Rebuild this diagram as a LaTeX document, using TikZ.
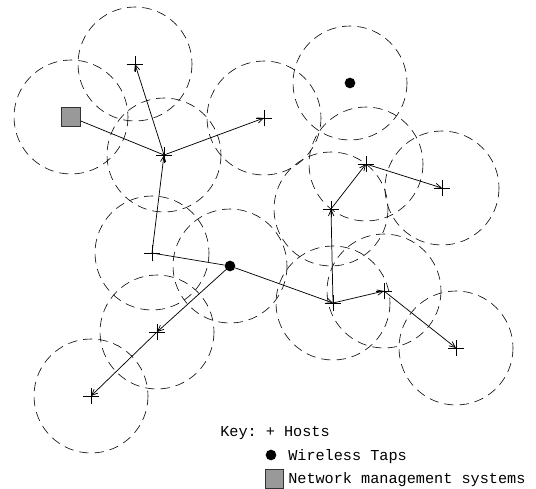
\documentclass[tikz,border=0pt]{standalone}
\usepackage{fontspec}
\setmonofont{Liberation Mono}
\usetikzlibrary{arrows.meta, shapes.misc}

\begin{document}
\begin{tikzpicture}[x=0.75pt,y=-0.75pt,>={Straight Barb[length=4.5pt,width=4pt]},
  host/.style={cross out,draw,rotate=45,minimum size=8.5pt,inner sep=0pt,line width=0.5pt},
  tap/.style={circle,fill=black,minimum size=8pt,inner sep=0pt},
  nms/.style={rectangle,draw=black!80,fill=black!40,minimum size=14pt,inner sep=0pt,line width=0.6pt},
  coverage/.style={dash pattern=on 7pt off 4.5pt,black,line width=0.45pt},
  link/.style={line width=0.55pt},
  keytext/.style={font=\ttfamily\fontsize{11.4}{13}\selectfont,inner sep=0pt,anchor=base west}]
\useasboundingbox (0,0) rectangle (536,489);

% management system and taps
\node[nms] (nms) at (71,117) {};
\node[tap] (tap1) at (230,266) {};
\node[tap] (tap2) at (350,83) {};

% hosts
\node[host] (a) at (135,64) {};
\node[host] (b) at (164,155) {};
\node[host] (c) at (264,118) {};
\node[host] (d) at (152,253) {};
\node[host] (e) at (331,209) {};
\node[host] (f) at (366,164) {};
\node[host] (g) at (442,188) {};
\node[host] (h) at (333,303) {};
\node[host] (i) at (384,291) {};
\node[host] (j) at (456,348) {};
\node[host] (k) at (157,332) {};
\node[host] (l) at (91,396) {};

% radio ranges
\foreach \n in {nms,tap1,tap2,a,b,c,d,e,f,g,h,i,j,k,l}
  \draw[coverage] (\n.center) circle[radius=57];

% links
\draw[link] (nms) -- (b.center);
\draw[link,->] (b.center) -- (a.center);
\draw[link,->] (b.center) -- (c.center);
\draw[link,->] (d.center) -- (b.center);
\draw[link] (d.center) -- (tap1);
\draw[link,->] (tap1) -- (k.center);
\draw[link,->] (k.center) -- (l.center);
\draw[link,->] (tap1) -- (h.center);
\draw[link,->] (h.center) -- (e.center);
\draw[link,->] (e.center) -- (f.center);
\draw[link,->] (f.center) -- (g.center);
\draw[link,->] (h.center) -- (i.center);
\draw[link,->] (i.center) -- (j.center);

% key
\node[keytext] (key) at (220,436) {Key: + Hosts};
\node[tap] (key tap) at (271,455) {};
\node[keytext] (key tap text) at (288,460) {Wireless Taps};
\node[nms] (key nms) at (274.5,479) {};
\node[keytext] (key nms text) at (288,483) {Network management systems};
\end{tikzpicture}
\end{document}
